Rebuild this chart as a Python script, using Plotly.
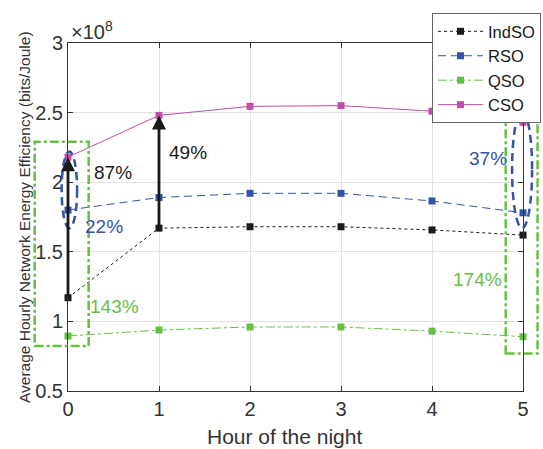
import plotly.graph_objects as go

hours = [0, 1, 2, 3, 4, 5]
indso = [1.17, 1.67, 1.68, 1.68, 1.657, 1.62]
rso = [1.80, 1.89, 1.92, 1.92, 1.865, 1.78]
qso = [0.895, 0.938, 0.96, 0.96, 0.93, 0.89]
cso = [2.18, 2.48, 2.545, 2.55, 2.51, 2.43]
names = ["IndSO", "RSO", "QSO", "CSO"]
y_ticks = [0.5, 1, 1.5, 2, 2.5, 3]
x_ticks = [0, 1, 2, 3, 4, 5]

BLACK = "#1a1a1a"
BLUE = "#3553a6"
GREEN = "#66bf44"
MAGENTA = "#c04fa5"
AX = "#333333"
FONT = "Liberation Sans, Arial, sans-serif"

XR = [0, 5]
YR = [0.5, 3]


def px(x):
    return (x - XR[0]) / (XR[1] - XR[0])


def py(y):
    return (y - YR[0]) / (YR[1] - YR[0])


fig = go.Figure()
styles = [
    (indso, BLACK, "dot"),
    (rso, BLUE, "8px,5px"),
    (qso, GREEN, "dashdot"),
    (cso, MAGENTA, "solid"),
]
for name, (vals, col, dash) in zip(names, styles):
    fig.add_trace(go.Scatter(
        x=hours, y=vals, name=name, mode="lines+markers",
        line=dict(color=col, width=1, dash=dash),
        marker=dict(symbol="square", size=7, color=col),
        cliponaxis=False,
    ))

shapes = []
# green dash-dot rectangles
for (x0, x1, y0, y1) in [(-0.366, 0.227, 0.823, 2.29), (4.81, 5.16, 0.77, 2.51)]:
    shapes.append(dict(type="rect", xref="paper", yref="paper",
                       x0=px(x0), x1=px(x1), y0=py(y0), y1=py(y1),
                       line=dict(color=GREEN, width=2.5, dash="dashdot"), layer="above"))
# blue dashed ellipses
for (x0, x1, y0, y1) in [(-0.07, 0.1, 1.67, 2.22), (4.88, 5.1, 1.67, 2.51)]:
    shapes.append(dict(type="circle", xref="paper", yref="paper",
                       x0=px(x0), x1=px(x1), y0=py(y0), y1=py(y1),
                       line=dict(color=BLUE, width=2.5, dash="8px,5px"), layer="above"))

annotations = []
# arrows IndSO -> CSO
for i in [0, 1]:
    annotations.append(dict(x=hours[i], y=cso[i], ax=hours[i], ay=indso[i],
                            xref="x", yref="y", axref="x", ayref="y", text="",
                            showarrow=True, arrowhead=2, arrowsize=1.0, arrowwidth=2.8,
                            arrowcolor=BLACK, standoff=0))
labels = [
    ("87%", 0.49, 2.07, BLACK),
    ("49%", 1.32, 2.21, BLACK),
    ("22%", 0.40, 1.68, BLUE),
    ("143%", 0.51, 1.11, GREEN),
    ("37%", 4.61, 2.17, BLUE),
    ("174%", 4.50, 1.30, GREEN),
]
for t, x, y, c in labels:
    annotations.append(dict(x=x, y=y, xref="x", yref="y", text=t, showarrow=False,
                            font=dict(size=19, color=c, family=FONT)))
annotations.append(dict(x=0.003, y=1.0, xref="paper", yref="paper", xanchor="left", yanchor="bottom",
                        text="×10<sup>8</sup>", showarrow=False, yshift=-2,
                        font=dict(size=20, color=AX, family=FONT)))
annotations.append(dict(x=-0.0967, y=0.50, xref="paper", yref="paper", textangle=-90,
                        xanchor="center", yanchor="middle",
                        text="Average Hourly Network Energy Efficiency (bits/Joule)",
                        showarrow=False, font=dict(size=15.5, color=AX, family=FONT)))
annotations.append(dict(x=0.475, y=-0.132, xref="paper", yref="paper", yanchor="middle",
                        text="Hour of the night", showarrow=False,
                        font=dict(size=21, color=AX, family=FONT)))

axis_common = dict(showline=True, linecolor=AX, linewidth=1, mirror="ticks",
                   ticks="inside", ticklen=5, tickcolor=AX, showgrid=True,
                   gridcolor="#e3e3e3", zeroline=False,
                   tickfont=dict(size=20, color=AX, family=FONT))
fig.update_layout(
    width=543, height=449,
    margin=dict(l=68, r=20, t=43, b=58, autoexpand=False),
    plot_bgcolor="white", paper_bgcolor="white",
    xaxis=dict(range=XR, tickvals=x_ticks, **axis_common),
    yaxis=dict(range=YR, tickvals=y_ticks, ticktext=[f"{v:g}" for v in y_ticks], **axis_common),
    legend=dict(x=0.8, y=1.086, xanchor="left", yanchor="top",
                bgcolor="white", bordercolor="#666666", borderwidth=1, itemwidth=45,
                font=dict(size=16.5, color=BLACK, family=FONT), tracegroupgap=0),
    shapes=shapes, annotations=annotations, showlegend=True,
)
fig.write_html("out.html")
